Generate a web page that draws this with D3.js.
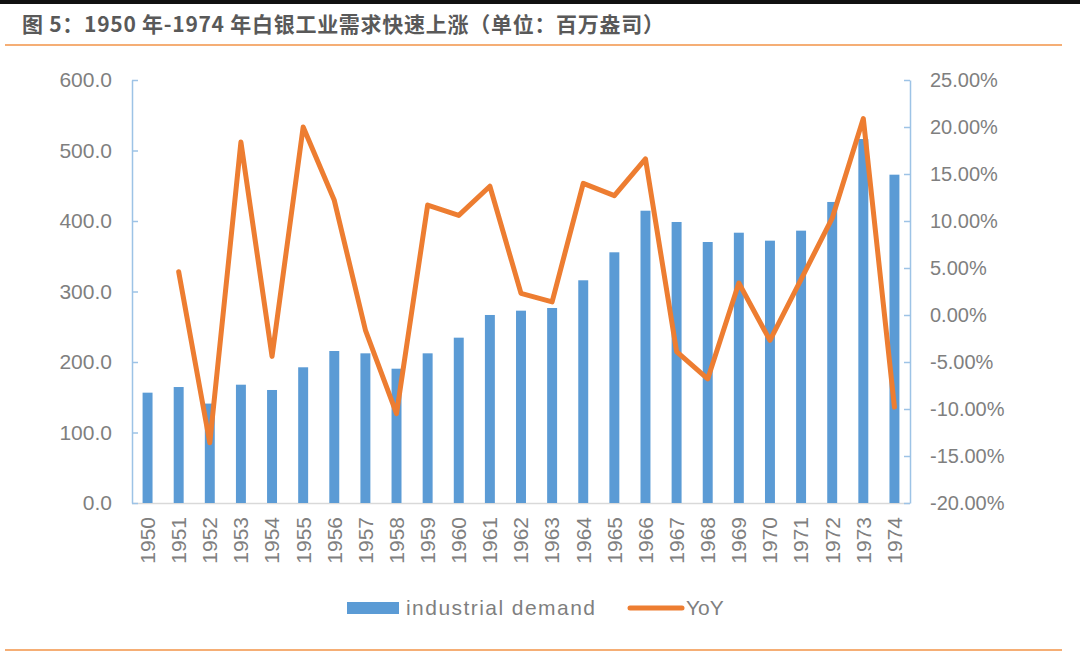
<!DOCTYPE html>
<html>
<head>
<meta charset="utf-8">
<script src="https://cdn.jsdelivr.net/npm/d3@7"></script>
<style>
  html, body { margin: 0; padding: 0; background: #fff; }
  svg { display: block; }
</style>
</head>
<body>
<svg id="chart" width="1080" height="661"></svg>
<script>
const titleText = "图 5：1950 年-1974 年白银工业需求快速上涨（单位：百万盎司）";
const years = ["1950","1951","1952","1953","1954","1955","1956","1957","1958","1959","1960","1961","1962","1963","1964","1965","1966","1967","1968","1969","1970","1971","1972","1973","1974"];
const demand = [156.5,164.5,141,167.8,160.3,192.5,215.6,212.3,190.5,212.3,234.5,266.7,272.8,276.6,315.9,355.6,414.6,398.6,370.2,383.4,372.1,386.3,427,516.3,465.7];
const yoy = [null,4.6,-13.6,18.4,-4.4,20.0,12.2,-1.6,-10.5,11.7,10.6,13.7,2.3,1.4,14.0,12.7,16.6,-3.9,-6.8,3.4,-2.7,3.8,10.3,20.9,-9.8];
const leftTicks = [0,100,200,300,400,500,600];
const rightTicks = [-20,-15,-10,-5,0,5,10,15,20,25];
const legendLabels = ["industrial demand","YoY"];

const barColor = "#5B9BD5", lineColor = "#ED7D31", labelColor = "#7F7F7F";
const svg = d3.select("#chart");
const font = "'Liberation Sans', Arial, sans-serif";

// frame decorations
svg.append("rect").attr("x",0).attr("y",0).attr("width",1080).attr("height",4).attr("fill","#111");
svg.append("text").attr("x",22).attr("y",32).text(titleText)
  .attr("font-family","'Noto Sans CJK SC', sans-serif").attr("font-weight","bold")
  .attr("font-size",21).attr("textLength",642).attr("lengthAdjust","spacing").attr("fill","#595959");
svg.append("line").attr("x1",5).attr("x2",1062).attr("y1",45).attr("y2",45).attr("stroke","#F5AE75").attr("stroke-width",2);
svg.append("line").attr("x1",5).attr("x2",1062).attr("y1",650).attr("y2",650).attr("stroke","#F5AE75").attr("stroke-width",2);

const plotL = 132, plotR = 910, plotT = 80, plotB = 503;
const x = d3.scaleBand().domain(years).range([plotL,plotR]).paddingInner(0.68).paddingOuter(0.34);
const yL = d3.scaleLinear().domain([0,600]).range([plotB,plotT]);
const yR = d3.scaleLinear().domain([-20,25]).range([plotB,plotT]);

// bottom axis line
svg.append("line").attr("x1",plotL).attr("x2",plotR).attr("y1",plotB+0.5).attr("y2",plotB+0.5).attr("stroke","#D9D9D9").attr("stroke-width",1.5);

// bars
svg.append("g").selectAll("rect").data(years).join("rect")
  .attr("x",d=>x(d)).attr("width",x.bandwidth())
  .attr("y",(d,i)=>yL(demand[i])).attr("height",(d,i)=>plotB-yL(demand[i]))
  .attr("fill",barColor);

// left axis
const gL = svg.append("g").attr("transform",`translate(${plotL},0)`)
  .call(d3.axisLeft(yL).tickValues(leftTicks).tickFormat(d3.format(".1f")).tickSize(-6).tickSizeOuter(0).tickPadding(20));
gL.select(".domain").attr("stroke","#9DC3E6").attr("stroke-width",1.5);
gL.selectAll(".tick line").attr("stroke","#9DC3E6").attr("stroke-width",1.5);
gL.selectAll(".tick text").attr("font-family",font).attr("font-size",21).attr("fill",labelColor);

// right axis
const gR = svg.append("g").attr("transform",`translate(${plotR},0)`)
  .call(d3.axisRight(yR).tickValues(rightTicks).tickFormat(d=>d.toFixed(2)+"%").tickSize(-6).tickSizeOuter(0).tickPadding(20));
gR.select(".domain").attr("stroke","#9DC3E6").attr("stroke-width",1.5);
gR.selectAll(".tick line").attr("stroke","#9DC3E6").attr("stroke-width",1.5);
gR.selectAll(".tick text").attr("font-family",font).attr("font-size",20).attr("fill",labelColor);

// x labels
const gX = svg.append("g").attr("transform",`translate(0,${plotB})`)
  .call(d3.axisBottom(x).tickSize(0).tickPadding(0));
gX.select(".domain").remove();
gX.selectAll(".tick text")
  .attr("font-family",font).attr("font-size",21).attr("fill",labelColor)
  .attr("text-anchor","end")
  .attr("transform","translate(0,14) rotate(-90)")
  .attr("x",0).attr("y",0).attr("dy","0.35em");

// line
const pts = years.map((d,i)=>({d, v: yoy[i]})).filter(p=>p.v!==null);
svg.append("path").datum(pts)
  .attr("d", d3.line().x(p=>x(p.d)+x.bandwidth()/2).y(p=>yR(p.v)))
  .attr("fill","none").attr("stroke",lineColor).attr("stroke-width",5)
  .attr("stroke-linejoin","round").attr("stroke-linecap","round");

// legend
const lg = svg.append("g");
lg.append("rect").attr("x",347).attr("y",602).attr("width",52).attr("height",12).attr("fill",barColor);
lg.append("text").attr("x",406).attr("y",615).text(legendLabels[0])
  .attr("font-family",font).attr("font-size",21).attr("textLength",189).attr("lengthAdjust","spacing").attr("fill",labelColor);
lg.append("line").attr("x1",630).attr("x2",682).attr("y1",608).attr("y2",608)
  .attr("stroke",lineColor).attr("stroke-width",5).attr("stroke-linecap","round");
lg.append("text").attr("x",686).attr("y",615).text(legendLabels[1])
  .attr("font-family",font).attr("font-size",21).attr("fill",labelColor);
</script>
</body>
</html>
